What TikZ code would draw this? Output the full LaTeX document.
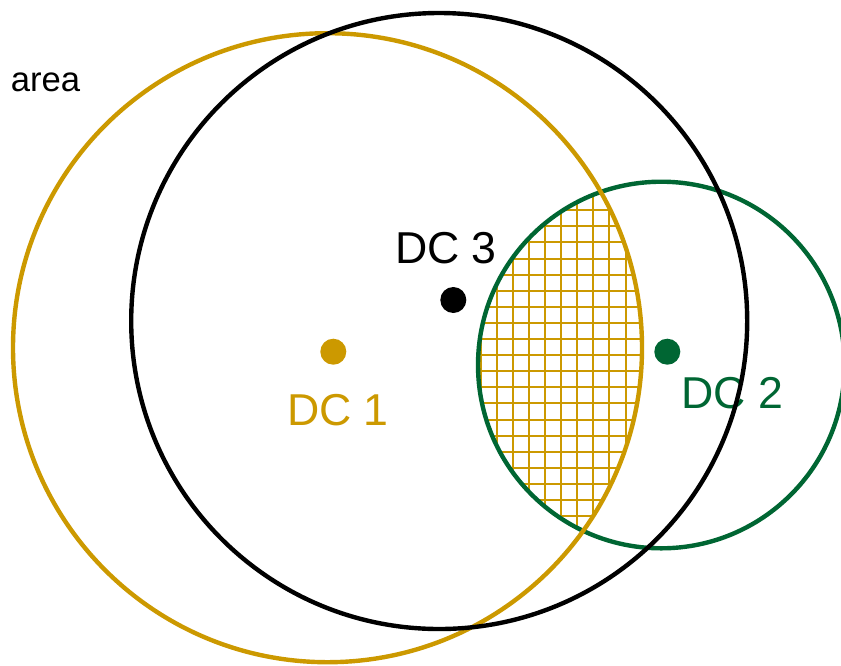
\documentclass[tikz,border=0pt]{standalone}
\usepackage{fontspec}
\setmainfont{Liberation Sans}
\definecolor{gold}{RGB}{204,153,0}
\definecolor{dgreen}{RGB}{0,102,51}
\begin{document}
\begin{tikzpicture}[x=0.75pt,y=-0.75pt,
  ring/.style={line width=3.3pt},
  grid line/.style={gold,line width=1.5pt},
  dot/.style={circle,inner sep=0pt,minimum size=19.5pt},
  lbl/.style={inner sep=0pt,anchor=base,font=\fontsize{33.5}{40}\selectfont},
  small lbl/.style={inner sep=0pt,anchor=base,font=\fontsize{26}{31}\selectfont}]
\useasboundingbox (0,0) rectangle (841,665);
\coordinate (c1) at (327.5,347.7);
\coordinate (c2) at (661.3,365);
\coordinate (c3) at (439.2,321);
% hatched intersection of DC 1 and DC 2 areas
\begin{scope}
  \clip (c1) circle[radius=314.5];
  \clip (c2) circle[radius=183.3];
  \foreach \i in {-2,...,12} \draw[grid line] (496.7+16.1*\i,150) -- (496.7+16.1*\i,600);
  \foreach \j in {-10,...,14} \draw[grid line] (450,339+16.1*\j) -- (700,339+16.1*\j);
\end{scope}
\draw[ring,dgreen] (c2) circle[radius=183.3];
\draw[ring,gold] (c1) circle[radius=314.5];
\node[small lbl] (area) at (45.5,91) {area};
\node[lbl,gold] (l1) at (338,425) {DC 1};
\node[lbl,dgreen] (l2) at (732,408) {DC 2};
\node[lbl] (l3) at (446,263) {DC 3};
\draw[ring,black] (c3) circle[radius=308];
\node[dot,fill=gold] (d1) at (333.3,351.7) {};
\node[dot,fill=dgreen] (d2) at (667.3,351.7) {};
\node[dot,fill=black] (d3) at (453.3,300) {};
\end{tikzpicture}
\end{document}
